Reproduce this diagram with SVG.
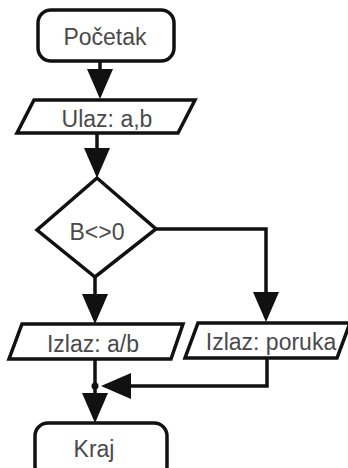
<svg xmlns="http://www.w3.org/2000/svg" width="348" height="468" viewBox="0 0 348 468">
<style>
.shape{fill:#fff;stroke:#111;stroke-width:3.5;stroke-linejoin:miter}
.conn{fill:none;stroke:#111;stroke-width:3.5}
.lbl{font-family:"Liberation Sans",Arial,sans-serif;font-size:23px;fill:#4a4a4a;text-anchor:middle}
</style>
<defs>
<marker id="ah" viewBox="0 0 30 26" markerWidth="30" markerHeight="26" refX="26" refY="13" orient="auto" markerUnits="userSpaceOnUse">
<path d="M0,0 L30,13 L0,26 Z" fill="#111"/>
</marker>
</defs>
<rect width="348" height="468" fill="#fff"/>
<g id="connectors">
<path class="conn" d="M100,61 L100,95" marker-end="url(#ah)"/>
<path class="conn" d="M97,133 L97,174" marker-end="url(#ah)"/>
<path class="conn" d="M95,277 L95,320" marker-end="url(#ah)"/>
<path class="conn" d="M156,229 L266,229 L266,318" marker-end="url(#ah)"/>
<path class="conn" d="M267,358 L267,386 L105,386" marker-end="url(#ah)"/>
<path class="conn" d="M95,359 L95,419" marker-end="url(#ah)"/>
<circle cx="95" cy="386" r="3.5" fill="#111"/>
</g>
<g id="start">
<rect class="shape" x="38" y="10" width="136" height="51" rx="13"/>
<text class="lbl" x="105" y="45">Početak</text>
</g>
<g id="input">
<polygon class="shape" points="34,100 195,100 178,133 17,133"/>
<text class="lbl" x="107" y="127">Ulaz: a,b</text>
</g>
<g id="decision">
<polygon class="shape" points="97,178 156,229 95,277 37,230"/>
<text class="lbl" x="97" y="240">B&lt;&gt;0</text>
</g>
<g id="out1">
<polygon class="shape" points="22,324 183,324 171,359 9,359"/>
<text class="lbl" x="93" y="352">Izlaz: a/b</text>
</g>
<g id="out2">
<polygon class="shape" points="198,323 350,323 337,358 185,358"/>
<text class="lbl" x="271" y="350">Izlaz: poruka</text>
</g>
<g id="end">
<rect class="shape" x="35" y="423" width="132" height="56" rx="13"/>
<text class="lbl" x="94" y="457">Kraj</text>
</g>
</svg>
